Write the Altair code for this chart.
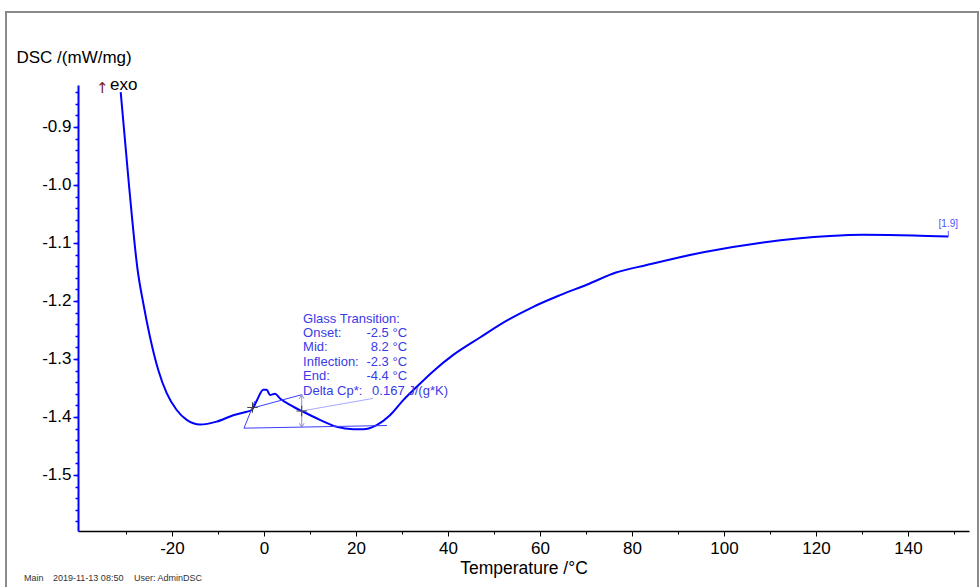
import altair as alt
import pandas as pd

# ---- data ----
temp_c = [-31.15, -29.35, -27.46, -26.24, -24.78, -22.98, -21.15, -18.98, -16.8, -13.91,
          -10.28, -6.67, -3.76, -2.67, -1.52, -0.15, 0.59, 1.30, 2.39, 3.48, 5.65, 8.54,
          12.17, 15.8, 19.41, 21.59, 24.5, 27.39, 30.28, 33.2, 36.8, 41.15, 46.96, 52.76,
          58.54, 64.35, 70.15, 76.52, 83.2, 95.5, 108.5, 123.0, 130.3, 141.2, 148.76]
dsc_mw_mg = [-0.840, -1.0, -1.147, -1.204, -1.262, -1.319, -1.359, -1.388, -1.405, -1.413,
             -1.408, -1.397, -1.391, -1.388, -1.371, -1.353, -1.353, -1.362, -1.360, -1.368,
             -1.379, -1.391, -1.405, -1.417, -1.421, -1.421, -1.414, -1.397, -1.371, -1.348,
             -1.321, -1.293, -1.263, -1.234, -1.210, -1.190, -1.172, -1.151, -1.138, -1.116,
             -1.099, -1.088, -1.086, -1.087, -1.089]

x_major = [-20, 0, 20, 40, 60, 80, 100, 120, 140]
x_minor = [-30, -10, 10, 30, 50, 70, 90, 110, 130, 150]
y_major = [-1.5, -1.4, -1.3, -1.2, -1.1, -1.0, -0.9]
y_minor = [round(-1.58 + 0.02 * i, 2) for i in range(38)]

# glass transition evaluation
gt_labels = ["Glass Transition:", "Onset:", "Mid:", "Inflection:", "End:", "Delta Cp*:"]
gt_values = ["", "-2.5 °C", "8.2 °C", "-2.3 °C", "-4.4 °C", "0.167 J/(g*K)"]
onset_t = -2.5
mid_t = 8.2

seg_id = ["base", "base", "edge", "edge", "upper", "upper"]
seg_t = [-4.35, 26.74, -4.35, -1.96, -2.67, mid_t]
seg_v = [-1.4193, -1.4147, -1.4193, -1.3724, -1.385, -1.3616]
faint_t = [mid_t, 23.7]
faint_v = [-1.3897, -1.368]
arrow_top = -1.3616
arrow_bot = -1.4177
cross_t = [onset_t, mid_t]
cross_v = [-1.3836, -1.3897]
end_label = "[1.9]"

# ---- chart ----
FONT = "Liberation Sans"
xs = alt.Scale(domain=[-40.43, 153.26], nice=False, zero=False)
ys = alt.Scale(domain=[-1.5966, -0.8276], nice=False, zero=False)

curve = pd.DataFrame({"T": temp_c, "DSC": dsc_mw_mg})

main = alt.Chart(curve).mark_line(color="#0000ff", strokeWidth=2, interpolate="monotone").encode(
    x=alt.X("T:Q", scale=xs, axis=alt.Axis(
        orient="bottom", values=x_major, domainColor="black", domainWidth=1.5,
        tickColor="black", tickSize=5, tickWidth=1, labelFontSize=17, labelFont=FONT,
        labelColor="black", labelPadding=4, grid=False,
        labelExpr="datum.value < 0 ? '-' + format(-datum.value, 'd') : format(datum.value, 'd')",
        title="Temperature /°C", titleFont=FONT, titleFontSize=17.5, titleFontWeight="normal",
        titleColor="black", titleY=42, titleBaseline="alphabetic")),
    y=alt.Y("DSC:Q", scale=ys, axis=alt.Axis(
        orient="left", values=y_major, domainColor="#0000ff", domainWidth=2,
        tickColor="#0000ff", tickSize=5, tickWidth=1.5, labelFontSize=17, labelFont=FONT,
        labelColor="black", labelPadding=2, grid=False,
        labelExpr="datum.value < 0 ? '-' + format(-datum.value, '.1f') : format(datum.value, '.1f')",
        title="DSC /(mW/mg)", titleFont=FONT, titleFontSize=17, titleFontWeight="normal",
        titleColor="black", titleAngle=0, titleAlign="left", titleBaseline="alphabetic",
        titleX=-62, titleY=-23)),
)

minor = alt.Chart(curve).mark_point(opacity=0).encode(
    x=alt.X("T:Q", scale=xs, axis=alt.Axis(
        orient="bottom", values=x_minor, labels=False, domain=False, tickColor="black",
        tickSize=3, tickWidth=1, grid=False, title=None)),
    y=alt.Y("DSC:Q", scale=ys, axis=alt.Axis(
        orient="left", values=y_minor, labels=False, domain=False, tickColor="#0000ff",
        tickSize=3, tickWidth=1.5, grid=False, title=None)),
)

segs = pd.DataFrame({"seg": seg_id, "T": seg_t, "v": seg_v, "o": list(range(len(seg_t)))})
seg_layer = alt.Chart(segs).mark_line(color="#3c3cff", strokeWidth=1).encode(
    x=alt.X("T:Q", scale=xs, axis=None), y=alt.Y("v:Q", scale=ys, axis=None),
    detail="seg:N", order="o:Q")

faint = alt.Chart(pd.DataFrame({"T": faint_t, "v": faint_v})).mark_line(
    color="#a8a8ff", strokeWidth=1).encode(
    x=alt.X("T:Q", scale=xs, axis=None), y=alt.Y("v:Q", scale=ys, axis=None))

arrow_df = pd.DataFrame({"T": [mid_t], "top": [arrow_top], "bot": [arrow_bot]})
arrow = alt.Chart(arrow_df).mark_rule(color="#8c8cd0", strokeWidth=1).encode(
    x=alt.X("T:Q", scale=xs, axis=None), y=alt.Y("top:Q", scale=ys, axis=None), y2="bot:Q")
head_up = alt.Chart(arrow_df).mark_point(
    shape="M -0.6 1 L 0 0 L 0.6 1", size=64, filled=False, color="#8c8cd0", strokeWidth=1, opacity=1
).encode(x=alt.X("T:Q", scale=xs, axis=None), y=alt.Y("top:Q", scale=ys, axis=None))
head_dn = alt.Chart(arrow_df).mark_point(
    shape="M -0.6 -1 L 0 0 L 0.6 -1", size=64, filled=False, color="#8c8cd0", strokeWidth=1, opacity=1
).encode(x=alt.X("T:Q", scale=xs, axis=None), y=alt.Y("bot:Q", scale=ys, axis=None))

crosses = alt.Chart(pd.DataFrame({"T": cross_t, "v": cross_v})).mark_point(
    shape="M -1 0 L 1 0 M 0 -1 L 0 1", size=110, filled=False, color="#404040",
    strokeWidth=1, opacity=1).encode(
    x=alt.X("T:Q", scale=xs, axis=None), y=alt.Y("v:Q", scale=ys, axis=None))

# text block anchors
text_left_t = 8.5
text_right_t = 31.1
text_top_v = -1.2374
text_step = 0.0248
rows = []
for i, (lab, val) in enumerate(zip(gt_labels, gt_values)):
    rows.append({"lab": lab, "val": val, "v": text_top_v - i * text_step,
                 "vt": text_right_t if i < 5 else 23.5, "al": "right" if i < 5 else "left"})
tdf = pd.DataFrame(rows)
TXT = dict(baseline="alphabetic", font=FONT, fontSize=13, color="#3a3ae6")
t_labels = alt.Chart(tdf).mark_text(align="left", **TXT).encode(
    x=alt.X("x0:Q", scale=xs, axis=None), y=alt.Y("v:Q", scale=ys, axis=None), text="lab:N"
).transform_calculate(x0=str(text_left_t))
t_vals_r = alt.Chart(tdf[tdf["al"] == "right"]).mark_text(align="right", **TXT).encode(
    x=alt.X("vt:Q", scale=xs, axis=None), y=alt.Y("v:Q", scale=ys, axis=None), text="val:N")
t_vals_l = alt.Chart(tdf[tdf["al"] == "left"]).mark_text(align="left", **TXT).encode(
    x=alt.X("vt:Q", scale=xs, axis=None), y=alt.Y("v:Q", scale=ys, axis=None), text="val:N")

end_df = pd.DataFrame({"T": [temp_c[-1]], "v": [dsc_mw_mg[-1]], "lab": [end_label]})
end_tick = alt.Chart(end_df).mark_rule(color="#6060ff", strokeWidth=1).encode(
    x=alt.X("T:Q", scale=xs, axis=None), y=alt.Y("v:Q", scale=ys, axis=None),
    y2=alt.Y2("vt:Q")).transform_calculate(vt="datum.v + 0.0098")
end_text = alt.Chart(end_df).mark_text(
    align="center", baseline="alphabetic", font=FONT, fontSize=10, color="#5050ff", dy=-10).encode(
    x=alt.X("T:Q", scale=xs, axis=None), y=alt.Y("v:Q", scale=ys, axis=None), text="lab:N")

one = pd.DataFrame({"a": [0]})
frame = alt.Chart(one).mark_rect(filled=False, stroke="#8a8a8a", strokeWidth=2).encode(
    x=alt.value(-72), x2=alt.value(900), y=alt.value(-73), y2=alt.value(530))

arrow_sym = alt.Chart(one).mark_text(text="↑", align="left", baseline="alphabetic",
                                     font="DejaVu Sans", fontSize=15, color="#7a2020").encode(
    x=alt.value(18), y=alt.value(8))
exo = alt.Chart(one).mark_text(text="exo", align="left", baseline="alphabetic",
                               font=FONT, fontSize=17, color="black").encode(
    x=alt.value(32), y=alt.value(5))
foot1 = alt.Chart(one).mark_text(text="Main", align="left", baseline="alphabetic",
                                 font=FONT, fontSize=9, color="#333333").encode(
    x=alt.value(-54), y=alt.value(496))
foot2 = alt.Chart(one).mark_text(text="2019-11-13 08:50", align="left", baseline="alphabetic",
                                 font=FONT, fontSize=9, color="#333333").encode(
    x=alt.value(-25), y=alt.value(496))
foot3 = alt.Chart(one).mark_text(text="User: AdminDSC", align="left", baseline="alphabetic",
                                 font=FONT, fontSize=9, color="#333333").encode(
    x=alt.value(56), y=alt.value(496))

chart = alt.layer(
    frame, main, minor, seg_layer, faint, arrow, head_up, head_dn, crosses,
    t_labels, t_vals_r, t_vals_l, end_tick, end_text, arrow_sym, exo, foot1, foot2, foot3
).resolve_axis(x="independent", y="independent").properties(
    width=891, height=446,
    autosize=alt.AutoSizeParams(type="none"),
    padding={"left": 78, "top": 85, "right": 10, "bottom": 56},
    background="white",
).configure_view(strokeWidth=0)

chart.save("out.html", embed_options={"renderer": "svg", "actions": False})
